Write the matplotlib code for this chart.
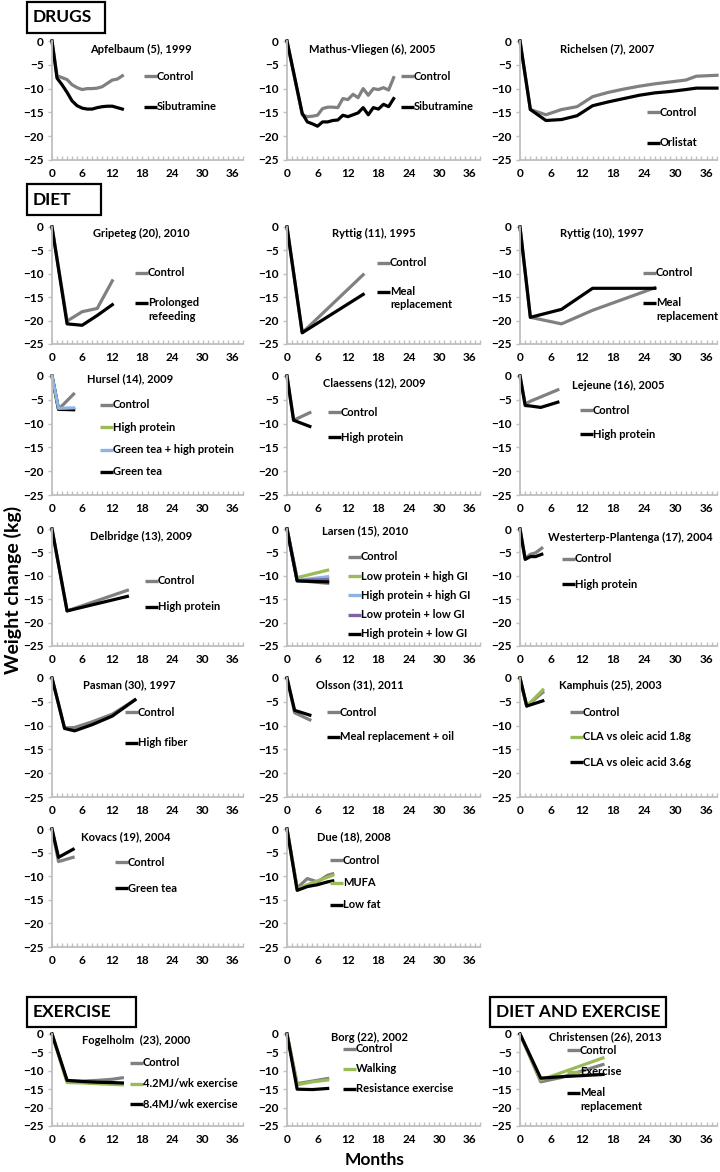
import matplotlib
matplotlib.use('Agg')
import matplotlib.pyplot as plt
from matplotlib.lines import Line2D
from matplotlib.patches import Rectangle

plt.rcParams['font.family'] = ['Lato', 'DejaVu Sans']
plt.rcParams['font.weight'] = 'bold'

GRAY = '#808080'; BLACK = '#000000'; GREEN = '#9bbb59'; BLUE = '#8db4e2'; PURPLE = '#8064a2'

# ---------------- data (months, weight change kg) ----------------
apf_m = [0, 1, 2, 3, 4, 5, 6, 7, 8, 9, 10, 11, 12, 13, 14]
apf_control = [0, -7.3, -7.7, -8.1, -9.2, -9.8, -10.2, -10.0, -10.0, -9.9, -9.6, -8.9, -8.2, -8.0, -7.3]
apf_sib = [0, -7.8, -9.2, -10.8, -12.6, -13.6, -14.1, -14.3, -14.3, -14.0, -13.8, -13.7, -13.7, -14.0, -14.3]

mat_m = [0, 3, 4, 5, 6, 7, 8, 9, 10, 11, 12, 13, 14, 15, 16, 17, 18, 19, 20, 21]
mat_control = [0, -15.5, -15.9, -15.8, -15.6, -14.2, -13.9, -13.9, -14.0, -12.1, -12.3, -11.2, -11.9, -10.0, -11.4, -10.0, -10.2, -9.8, -10.3, -7.7]
mat_sib = [0, -15.2, -17.0, -17.4, -17.9, -17.0, -17.0, -16.7, -16.6, -15.6, -15.9, -15.5, -15.1, -14.0, -15.5, -14.0, -14.3, -13.3, -13.8, -12.1]

ric_m = [0, 2, 5, 8, 11, 14, 17, 20, 23, 26, 29, 32, 34, 36, 38]
ric_control = [0, -14.4, -15.5, -14.4, -13.8, -11.7, -10.8, -10.1, -9.5, -9.0, -8.6, -8.2, -7.4, -7.3, -7.2]
ric_orl = [0, -14.4, -16.7, -16.5, -15.7, -13.6, -12.8, -12.1, -11.4, -10.9, -10.6, -10.2, -9.9, -9.9, -9.9]

gri_m = [0, 3, 6, 9, 12]
gri_control = [0, -20.1, -18.1, -17.4, -11.5]
gri_refeed = [0, -20.7, -21.0, -18.9, -16.6]

ry95_m = [0, 3, 15]
ry95_control = [0, -22.6, -10.2]
ry95_meal = [0, -22.6, -14.4]

ry97_m = [0, 2, 8, 14, 26]
ry97_control = [0, -19.3, -20.7, -17.8, -13.0]
ry97_meal = [0, -19.3, -17.6, -13.1, -13.1]

hur_m = [0, 1.3, 4.3]
hur_control = [0, -7.0, -3.8]
hur_hp = [0, -7.0, -6.9]
hur_gthp = [0, -6.8, -6.7]
hur_gt = [0, -7.0, -7.1]

cla_m = [0, 1.3, 4.5]
cla_control = [0, -9.3, -7.7]
cla_hp = [0, -9.3, -10.6]

lej_m = [0, 1, 2, 4, 7.3]
lej_control = [0, -5.9, -5.3, -4.4, -2.9]
lej_hp = [0, -6.2, -6.3, -6.6, -5.5]

del_m = [0, 3, 15]
del_control = [0, -17.5, -13.1]
del_hp = [0, -17.5, -14.4]

lar_m = [0, 2, 8]
lar_control = [0, -11.0, -11.6]
lar_lphg = [0, -10.4, -8.8]
lar_hphg = [0, -11.0, -10.2]
lar_lplg = [0, -11.0, -10.8]
lar_hplg = [0, -11.1, -11.3]

wes_m = [0, 1, 2, 3, 4.2]
wes_control = [0, -6.3, -5.4, -5.1, -4.1]
wes_hp = [0, -6.5, -5.9, -5.9, -5.4]

pas_m = [0, 2.5, 4.5, 8, 12, 16.5]
pas_control = [0, -10.5, -10.4, -9.2, -7.6, -4.6]
pas_fiber = [0, -10.6, -11.1, -9.8, -8.0, -4.6]

ols_m = [0, 1.5, 4.5]
ols_control = [0, -7.3, -8.8]
ols_meal = [0, -6.8, -7.8]

kam_m = [0, 1.3, 4.4]
kam_control = [0, -5.9, -3.0]
kam_cla18 = [0, -5.9, -2.5]
kam_cla36 = [0, -5.9, -4.8]

kov_m = [0, 1.3, 4.2]
kov_control = [0, -6.9, -6.0]
kov_gt = [0, -6.0, -4.3]

due_m = [0, 2, 4, 6, 8, 9]
due_control = [0, -12.5, -10.5, -11.2, -9.8, -9.5]
due_mufa = [0, -12.7, -11.8, -11.0, -10.2, -9.8]
due_lowfat = [0, -13.0, -12.2, -11.8, -11.2, -11.0]

fog_m = [0, 3, 6, 9, 12, 14]
fog_control = [0, -12.8, -12.8, -12.6, -12.3, -11.9]
fog_42 = [0, -13.2, -13.3, -13.5, -13.7, -13.8]
fog_84 = [0, -12.6, -12.9, -13.1, -13.2, -13.3]

borg_m = [0, 2, 5, 8]
borg_control = [0, -13.5, -12.8, -12.1]
borg_walk = [0, -13.8, -13.0, -12.5]
borg_resist = [0, -15.0, -15.1, -14.8]

chr_m = [0, 4, 8, 12, 16]
chr_control = [0, -13.0, -11.8, -10.0, -8.3]
chr_exercise = [0, -12.5, -10.5, -8.5, -6.5]
chr_meal = [0, -12.0, -11.6, -11.3, -11.0]

# ---------------- layout ----------------
W, H = 720, 1172
fig = plt.figure(figsize=(W / 100, H / 100), dpi=100)

COLS = {0: (52, 243), 1: (287, 480), 2: (520, 717)}
ROWS = {0: (41, 160), 1: (227, 344), 2: (376, 495), 3: (529, 646),
        4: (678, 797), 5: (829, 947), 6: (1034, 1126)}

AXC = '#bfbfbf'
FS = 8


def fx(x):
    return x / W


def fy(y):
    return 1 - y / H


def make_axes(col, row):
    l, r = COLS[col]
    t, b = ROWS[row]
    ax = fig.add_axes([fx(l), fy(b), (r - l) / W, (b - t) / H])
    ax.set_xlim(0, 38)
    ax.set_ylim(-25, 0)
    for s in ['top', 'right']:
        ax.spines[s].set_visible(False)
    for s in ['left', 'bottom']:
        ax.spines[s].set_color(AXC)
        ax.spines[s].set_linewidth(1.3)
    ax.set_xticks(range(0, 37, 6))
    ax.set_xticks(range(0, 39), minor=True)
    ax.set_yticks(range(-25, 1, 5))
    ax.tick_params(axis='x', which='both', direction='in', length=3, width=1, color=AXC,
                   labelsize=8.5, pad=6)
    ax.tick_params(axis='y', which='both', direction='out', length=3, width=1, color=AXC,
                   labelsize=8.5, pad=3)
    ax.patch.set_alpha(0)
    return ax


def legend(x, y, entries, dy):
    for i, (lab, c) in enumerate(entries):
        yy = y + i * dy
        fig.add_artist(Line2D([fx(x), fx(x + 13)], [fy(yy), fy(yy)], color=c, lw=2.4,
                              solid_capstyle='butt'))
        lines = lab.split('\n')
        for j, ln in enumerate(lines):
            fig.text(fx(x + 13), fy(yy + j * 13), ln, fontsize=FS, fontweight='bold',
                     va='center', ha='left')


def panel(col, row, title, tx, ty, series, lx, ly, dy, order=None):
    ax = make_axes(col, row)
    idx = order if order is not None else range(len(series))
    for k in idx:
        m, v, c, lab = series[k]
        ax.plot(m, v, color=c, lw=2.3, clip_on=False, solid_joinstyle='round')
    fig.text(fx(tx), fy(ty), title, fontsize=FS, fontweight='bold', ha='center', va='center')
    legend(lx, ly, [(s[3], s[2]) for s in series], dy)
    return ax


panel(0, 0, 'Apfelbaum (5), 1999', 141, 49,
      [(apf_m, apf_control, GRAY, 'Control'), (apf_m, apf_sib, BLACK, 'Sibutramine')],
      144, 76, 31)
panel(1, 0, 'Mathus-Vliegen (6), 2005', 372, 49,
      [(mat_m, mat_control, GRAY, 'Control'), (mat_m, mat_sib, BLACK, 'Sibutramine')],
      401, 76, 31)
panel(2, 0, 'Richelsen (7), 2007', 607, 49,
      [(ric_m, ric_control, GRAY, 'Control'), (ric_m, ric_orl, BLACK, 'Orlistat')],
      647, 112, 31)

panel(0, 1, 'Gripeteg (20), 2010', 141, 233,
      [(gri_m, gri_control, GRAY, 'Control'), (gri_m, gri_refeed, BLACK, 'Prolonged\nrefeeding')],
      135, 273, 30)
panel(1, 1, 'Ryttig (11), 1995', 374, 233,
      [(ry95_m, ry95_control, GRAY, 'Control'), (ry95_m, ry95_meal, BLACK, 'Meal\nreplacement')],
      377, 263, 29)
panel(2, 1, 'Ryttig (10), 1997', 602, 233,
      [(ry97_m, ry97_control, GRAY, 'Control'), (ry97_m, ry97_meal, BLACK, 'Meal\nreplacement')],
      643, 273, 30)

panel(0, 2, 'Hursel (14), 2009', 130, 379,
      [(hur_m, hur_control, GRAY, 'Control'), (hur_m, hur_hp, GREEN, 'High protein'),
       (hur_m, hur_gthp, BLUE, 'Green tea + high protein'), (hur_m, hur_gt, BLACK, 'Green tea')],
      100, 405, 22.3, order=[0, 1, 3, 2])
panel(1, 2, 'Claessens (12), 2009', 374, 383,
      [(cla_m, cla_control, GRAY, 'Control'), (cla_m, cla_hp, BLACK, 'High protein')],
      328, 412, 25)
panel(2, 2, 'Lejeune (16), 2005', 618, 385,
      [(lej_m, lej_control, GRAY, 'Control'), (lej_m, lej_hp, BLACK, 'High protein')],
      580, 410, 24)

panel(0, 3, 'Delbridge (13), 2009', 141, 536,
      [(del_m, del_control, GRAY, 'Control'), (del_m, del_hp, BLACK, 'High protein')],
      145, 581, 26)
panel(1, 3, 'Larsen (15), 2010', 365, 531,
      [(lar_m, lar_control, GRAY, 'Control'), (lar_m, lar_lphg, GREEN, 'Low protein + high GI'),
       (lar_m, lar_hphg, BLUE, 'High protein + high GI'), (lar_m, lar_lplg, PURPLE, 'Low protein + low GI'),
       (lar_m, lar_hplg, BLACK, 'High protein + low GI')],
      348, 557, 19.2)
panel(2, 3, 'Westerterp-Plantenga (17), 2004', 630, 537,
      [(wes_m, wes_control, GRAY, 'Control'), (wes_m, wes_hp, BLACK, 'High protein')],
      562, 559, 25)

panel(0, 4, 'Pasman (30), 1997', 129, 685,
      [(pas_m, pas_control, GRAY, 'Control'), (pas_m, pas_fiber, BLACK, 'High fiber')],
      125, 712, 31)
panel(1, 4, 'Olsson (31), 2011', 360, 685,
      [(ols_m, ols_control, GRAY, 'Control'), (ols_m, ols_meal, BLACK, 'Meal replacement + oil')],
      327, 712, 25)
panel(2, 4, 'Kamphuis (25), 2003', 610, 685,
      [(kam_m, kam_control, GRAY, 'Control'), (kam_m, kam_cla18, GREEN, 'CLA vs oleic acid 1.8g'),
       (kam_m, kam_cla36, BLACK, 'CLA vs oleic acid 3.6g')],
      570, 712, 25)

panel(0, 5, 'Kovacs (19), 2004', 126, 837,
      [(kov_m, kov_control, GRAY, 'Control'), (kov_m, kov_gt, BLACK, 'Green tea')],
      115, 862, 26)
panel(1, 5, 'Due (18), 2008', 354, 837,
      [(due_m, due_control, GRAY, 'Control'), (due_m, due_mufa, GREEN, 'MUFA'),
       (due_m, due_lowfat, BLACK, 'Low fat')],
      330, 860, 22.5)

panel(0, 6, 'Fogelholm  (23), 2000', 136, 1040,
      [(fog_m, fog_control, GRAY, 'Control'), (fog_m, fog_42, GREEN, '4.2MJ/wk exercise'),
       (fog_m, fog_84, BLACK, '8.4MJ/wk exercise')],
      130, 1063, 20.5)
panel(1, 6, 'Borg (22), 2002', 370, 1037,
      [(borg_m, borg_control, GRAY, 'Control'), (borg_m, borg_walk, GREEN, 'Walking'),
       (borg_m, borg_resist, BLACK, 'Resistance exercise')],
      343, 1049, 20)
panel(2, 6, 'Christensen (26), 2013', 605, 1037,
      [(chr_m, chr_control, GRAY, 'Control'), (chr_m, chr_exercise, GREEN, 'Exercise'),
       (chr_m, chr_meal, BLACK, 'Meal\nreplacement')],
      567, 1050, 21.5)

# section headers
def header(x0, x1, y0, y1, text):
    fig.add_artist(Rectangle((fx(x0), fy(y1)), (x1 - x0) / W, (y1 - y0) / H, fill=False,
                             edgecolor='black', lw=1.6, transform=fig.transFigure))
    fig.text(fx(x0 + 6), fy((y0 + y1) / 2), text, fontsize=12.5, fontweight='bold',
             va='center', ha='left')


header(27, 105, 2, 33, 'DRUGS')
header(27, 101, 184, 215, 'DIET')
header(27, 136, 997, 1027, 'EXERCISE')
header(490, 666, 997, 1027, 'DIET AND EXERCISE')

fig.text(fx(13), fy(590), 'Weight change (kg)', rotation=90, fontsize=14, fontweight='bold',
         ha='center', va='center')
fig.text(fx(375), fy(1160), 'Months', fontsize=12.5, fontweight='bold', ha='center', va='center')

fig.savefig('out.png', dpi=100)
